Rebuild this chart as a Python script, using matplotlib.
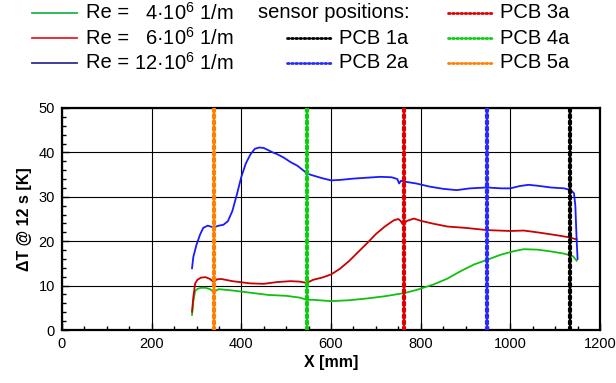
import matplotlib
matplotlib.use("Agg")
import matplotlib.pyplot as plt
from matplotlib.lines import Line2D
from matplotlib.ticker import MultipleLocator

plt.rcParams['font.family'] = ['Liberation Sans', 'DejaVu Sans']
plt.rcParams['mathtext.fontset'] = 'custom'
plt.rcParams['mathtext.rm'] = 'Liberation Sans'
plt.rcParams['mathtext.it'] = 'Liberation Sans:italic'
plt.rcParams['mathtext.bf'] = 'Liberation Sans:bold'

# ---- data ----
x_green = [290, 293, 297, 303, 310, 320, 330, 338, 350, 380, 420, 460, 500, 530, 546, 560, 600, 640,
           680, 720, 750, 763, 790, 830, 860, 890, 920, 948, 980, 1010, 1030, 1060, 1090, 1120, 1140, 1148]
y_green = [3.4, 6.5, 8.8, 9.3, 9.5, 9.5, 9.2, 8.6, 9.2, 8.9, 8.4, 7.9, 7.7, 7.3, 6.8, 6.8, 6.5, 6.7,
           7.1, 7.6, 8.1, 8.3, 9.0, 10.3, 11.6, 13.3, 14.8, 15.8, 17.0, 17.8, 18.2, 18.1, 17.7, 17.2, 16.6, 15.6]

x_red = [290, 293, 297, 302, 310, 320, 330, 338, 345, 355, 380, 420, 450, 480, 510, 530, 546, 560,
         580, 600, 620, 640, 660, 680, 700, 720, 740, 750, 755, 760, 770, 785, 800, 830, 860, 900,
         948, 1000, 1030, 1060, 1100, 1130, 1148]
y_red = [4.1, 7.5, 10.5, 11.3, 11.8, 11.9, 11.5, 10.8, 11.4, 11.5, 11.0, 10.5, 10.4, 10.8, 11.0, 10.9, 10.6, 11.3,
         11.8, 12.5, 13.8, 15.5, 17.5, 19.5, 21.6, 23.3, 24.7, 25.0, 24.6, 23.8, 24.6, 25.1, 24.6, 23.9, 23.3, 23.0,
         22.5, 22.3, 22.4, 22.0, 21.4, 20.9, 20.4]

x_blue = [290, 293, 300, 308, 315, 325, 335, 340, 350, 360, 370, 380, 390, 400, 410, 420, 430, 440,
          450, 460, 470, 480, 495, 510, 525, 540, 547, 560, 580, 600, 620, 650, 680, 710, 735, 748,
          752, 756, 765, 790, 820, 850, 880, 910, 948, 980, 1000, 1020, 1040, 1060, 1090, 1120, 1135,
          1142, 1145, 1148, 1150]
y_blue = [13.9, 16.5, 19.2, 21.5, 23.0, 23.5, 23.2, 23.2, 23.5, 23.7, 24.5, 26.8, 30.5, 34.5, 37.5, 39.5, 40.8, 41.1,
          41.0, 40.5, 40.0, 39.6, 38.8, 37.8, 37.0, 35.8, 35.2, 34.8, 34.2, 33.7, 33.8, 34.1, 34.3, 34.5, 34.4, 34.0,
          33.0, 33.6, 33.4, 33.0, 32.3, 31.8, 31.5, 31.9, 32.1, 31.9, 31.9, 32.4, 32.7, 32.5, 32.1, 31.9, 31.5,
          30.8, 28.0, 20.0, 16.0]

sensor_names = ['PCB 1a', 'PCB 2a', 'PCB 3a', 'PCB 4a', 'PCB 5a']
sensor_x = [1133, 948, 763, 546, 338]
sensor_colors = ['#000000', '#2a2aff', '#e00000', '#10cc10', '#ff8000']

re_labels = ['4', '6', '12']
curve_colors = ['#10c010', '#cc0000', '#1a1aff']
legend_curve_colors = ['#22b24c', '#ee1c24', '#2e3192']

# ---- figure ----
fig = plt.figure(figsize=(6.16, 3.83), dpi=100)
ax = fig.add_axes([62/616, 1 - 330/383, 538/616, 222/383])

for xs, ys, c in zip([x_green, x_red, x_blue], [y_green, y_red, y_blue], curve_colors):
    ax.plot(xs, ys, color=c, lw=1.3, zorder=3)

for sx, sc in zip(sensor_x, sensor_colors):
    ax.plot([sx, sx], [0, 50], color=sc, lw=3, ls=(0, (0.6, 0.9)),
            dash_capstyle='round', zorder=4)

ax.set_xlim(0, 1200)
ax.set_ylim(0, 50)
ax.xaxis.set_major_locator(MultipleLocator(200))
ax.xaxis.set_minor_locator(MultipleLocator(50))
ax.yaxis.set_major_locator(MultipleLocator(10))
ax.yaxis.set_minor_locator(MultipleLocator(2))
ax.grid(True, which='major', color='black', lw=0.8)
ax.tick_params(which='both', direction='in', top=False, right=False, labelsize=10.5, colors='black')
ax.tick_params(which='major', length=5, width=1)
ax.tick_params(which='minor', length=3, width=1)
ax.tick_params(axis='x', which='major', pad=5)
ax.tick_params(axis='y', which='major', pad=5)
for s in ax.spines.values():
    s.set_linewidth(1.6)
ax.set_xlabel('X [mm]', fontsize=11.5, fontweight='bold', labelpad=3)
ax.set_ylabel('ΔT @ 12 s [K]', fontsize=11.5, fontweight='bold', labelpad=5)

# ---- legend (manual) ----
def fx(px):
    return px / 616
def fy(py):
    return 1 - py / 383

rows = [13, 38, 63]
fs = 14.5
for i, (lab, c) in enumerate(zip(re_labels, legend_curve_colors)):
    y = rows[i]
    fig.add_artist(Line2D([fx(32), fx(77)], [fy(y), fy(y)], color=c, lw=1.3))
    fig.text(fx(86), fy(y), 'Re =', fontsize=fs, va='center', ha='left')
    fig.text(fx(234), fy(y), lab + '·10$^{6}$ 1/m', fontsize=fs, va='center', ha='right')

fig.text(fx(258), fy(rows[0]), 'sensor positions:', fontsize=fs, va='center', ha='left')
legend_slots = [(287, rows[1]), (287, rows[2]), (448, rows[0]), (448, rows[1]), (448, rows[2])]
for (lx, ly), name, c in zip(legend_slots, sensor_names, sensor_colors):
    fig.add_artist(Line2D([fx(lx), fx(lx + 45)], [fy(ly), fy(ly)], color=c, lw=2,
                          ls=(0, (0.6, 0.9)), dash_capstyle='round'))
    fig.text(fx(lx + 52), fy(ly), name, fontsize=fs, va='center', ha='left')

fig.savefig('out.png', dpi=100)
